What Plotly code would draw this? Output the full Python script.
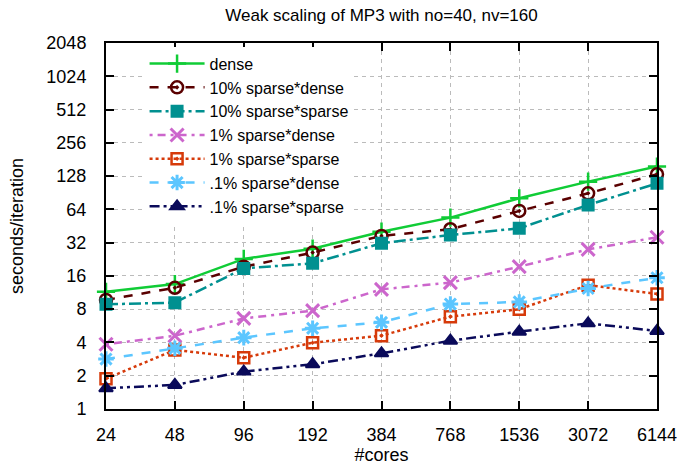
import plotly.graph_objects as go
import math

cores = [24, 48, 96, 192, 384, 768, 1536, 3072, 6144]
tick_labels = ["24", "48", "96", "192", "384", "768", "1536", "3072", "6144"]
y_ticks = [1, 2, 4, 8, 16, 32, 64, 128, 256, 512, 1024, 2048]

dense = [11.5, 13.5, 22.8, 28.2, 40.2, 53.9, 80.6, 114, 156]
sp10_dense = [9.7, 12.5, 19.4, 26.0, 36.8, 42.3, 61.9, 89.4, 133]
sp10_sparse = [8.85, 9.17, 18.7, 20.8, 31.6, 37.5, 43.1, 70.1, 110]
sp1_dense = [3.85, 4.6, 6.6, 7.76, 12.1, 13.9, 19.4, 27.8, 35.8]
sp1_sparse = [1.88, 3.42, 2.91, 3.98, 4.61, 6.85, 7.98, 13.2, 11.0]
sp01_dense = [2.83, 3.54, 4.42, 5.37, 6.08, 8.9, 9.3, 12.3, 15.4]
sp01_sparse = [1.54, 1.65, 2.18, 2.54, 3.19, 4.15, 5.01, 5.96, 5.08]

series = [
    ("dense", dense, "#10cc36", "solid", "cross-thin-open", 13, 2.5),
    ("10% sparse*dense", sp10_dense, "#5a0000", "dash", "circle-open-dot", 12, 2.5),
    ("10% sparse*sparse", sp10_sparse, "#009090", "12px,4px,3px,4px", "square", 11, 2),
    ("1% sparse*dense", sp1_dense, "#cc66cc", "3px,5px,8px,5px", "x-thin-open", 13, 3),
    ("1% sparse*sparse", sp1_sparse, "#d63a0a", "dot", "square-open-dot", 11, 2.5),
    (".1% sparse*dense", sp01_dense, "#5cc6ff", "dash", "asterisk-open", 13, 3),
    (".1% sparse*sparse", sp01_sparse, "#0a0a5a", "10px,4px,3px,4px,3px,4px", "triangle-up", 12, 2),
]

fig = go.Figure()
for name, vals, color, dash, sym, size, mlw in series:
    fig.add_trace(go.Scatter(
        x=cores, y=vals, name=name, mode="lines+markers",
        line=dict(color=color, width=2.5, dash=dash),
        marker=dict(symbol=sym, size=size, color=color,
                    line=dict(color=color, width=mlw)),
        cliponaxis=False,
    ))

FONT = "Liberation Sans, Arial, sans-serif"

fig.update_layout(
    width=679, height=465,
    margin=dict(l=106, r=22, t=43, b=56, autoexpand=False),
    paper_bgcolor="white", plot_bgcolor="white",
    font=dict(family=FONT, size=18, color="black"),
    title=dict(text="Weak scaling of MP3 with no=40, nv=160",
               x=0.5, xref="paper", xanchor="center",
               y=1 - 15 / 465, yref="container", yanchor="middle",
               font=dict(size=17, family=FONT, color="black")),
    showlegend=True,
    legend=dict(x=0.07, y=0.99, xanchor="left", yanchor="top",
                bgcolor="white", borderwidth=0,
                font=dict(size=16, family=FONT, color="black"),
                itemwidth=55, tracegroupgap=0),
)

fig.update_xaxes(
    type="log", automargin=False,
    range=[math.log10(cores[0]), math.log10(cores[-1])],
    tickvals=cores, ticktext=tick_labels,
    ticks="inside", ticklen=8, tickwidth=1.5, tickcolor="black",
    showline=True, linecolor="black", linewidth=2, mirror="ticks",
    showgrid=True, gridcolor="#bbbbbb", gridwidth=1, griddash="4px,4px",
    zeroline=False, ticklabelstandoff=8,
    tickfont=dict(size=18, family=FONT),
    title=dict(text="#cores", font=dict(size=18, family=FONT), standoff=12),
)
fig.update_yaxes(
    type="log", automargin=False,
    range=[0, math.log10(2048)],
    tickvals=y_ticks, ticktext=[str(v) for v in y_ticks],
    ticks="inside", ticklen=8, tickwidth=1.5, tickcolor="black",
    showline=True, linecolor="black", linewidth=2, mirror="ticks",
    showgrid=True, gridcolor="#bbbbbb", gridwidth=1, griddash="4px,4px",
    zeroline=False, ticklabelstandoff=14,
    tickfont=dict(size=18, family=FONT),
    title=dict(text="seconds/iteration", font=dict(size=18, family=FONT), standoff=18),
)

fig.write_html("out.html", config={"displayModeBar": False},
               post_script="document.body.style.margin='0';document.body.style.overflow='hidden';")
